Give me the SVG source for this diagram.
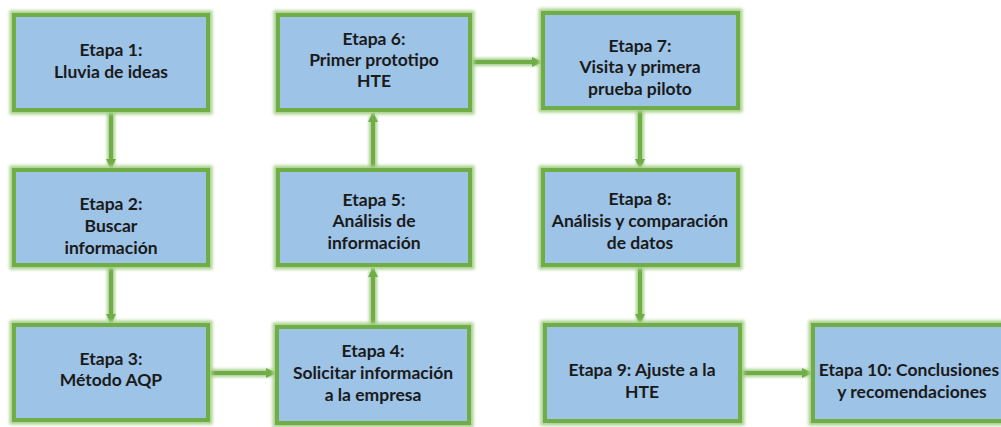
<svg xmlns="http://www.w3.org/2000/svg" width="1001" height="427" viewBox="0 0 1001 427">
<defs>
<marker id="ah" viewBox="0 0 10 10" refX="9" refY="5" markerWidth="2.6" markerHeight="2.6" orient="auto" markerUnits="strokeWidth">
<path d="M0,0 L10,5 L0,10 z" fill="#70AD47"/>
</marker>
<filter id="glow" x="-10%" y="-10%" width="120%" height="120%">
<feGaussianBlur stdDeviation="1.5"/>
</filter>
</defs>
<style>
.halo{fill:none;stroke:#A9D18E;stroke-width:9;filter:url(#glow)}
.box{fill:#9DC3E6;stroke:#70AD47;stroke-width:4}
.lhalo{fill:none;stroke:#A9D18E;stroke-width:8;filter:url(#glow)}
.ln{fill:none;stroke:#70AD47;stroke-width:4;marker-end:url(#ah)}
text{font-family:Lato,"Open Sans","Liberation Sans",sans-serif;font-weight:bold;font-size:17.5px;fill:#1a1a1a;text-anchor:middle}
</style>
<rect width="1001" height="427" fill="#ffffff"/>
<g id="connectors">
<path class="lhalo" d="M111,110 V166 M111,265 V321 M208,373 H273 M373,327 V271 M373,170 V116 M470,62 H539 M640,108 V166 M640,265 V321 M740,373 H809"/>
<path class="ln" d="M111,110 V168"/>
<path class="ln" d="M111,265 V323"/>
<path class="ln" d="M208,373 H275"/>
<path class="ln" d="M373,327 V268"/>
<path class="ln" d="M373,170 V113"/>
<path class="ln" d="M470,62 H541"/>
<path class="ln" d="M640,108 V168"/>
<path class="ln" d="M640,265 V323"/>
<path class="ln" d="M740,373 H811"/>
</g>
<g id="n1"><rect class="halo" x="14" y="15" width="194" height="95"/><rect class="box" x="14" y="15" width="194" height="95"/><text x="111" y="56">Etapa 1:</text><text x="111" y="78">Lluvia de ideas</text></g>
<g id="n2"><rect class="halo" x="14" y="170" width="194" height="95"/><rect class="box" x="14" y="170" width="194" height="95"/><text x="111" y="210">Etapa 2:</text><text x="111" y="232">Buscar</text><text x="111" y="254">información</text></g>
<g id="n3"><rect class="halo" x="14" y="325" width="194" height="95"/><rect class="box" x="14" y="325" width="194" height="95"/><text x="111" y="365">Etapa 3:</text><text x="111" y="386">Método AQP</text></g>
<g id="n4"><rect class="halo" x="277" y="327" width="192" height="96"/><rect class="box" x="277" y="327" width="192" height="96"/><text x="373" y="357">Etapa 4:</text><text x="373" y="379">Solicitar información</text><text x="373" y="401">a la empresa</text></g>
<g id="n5"><rect class="halo" x="278" y="170" width="192" height="95"/><rect class="box" x="278" y="170" width="192" height="95"/><text x="374" y="206">Etapa 5:</text><text x="374" y="227">Análisis de</text><text x="374" y="249">información</text></g>
<g id="n6"><rect class="halo" x="278" y="15" width="192" height="95"/><rect class="box" x="278" y="15" width="192" height="95"/><text x="374" y="45">Etapa 6:</text><text x="374" y="66">Primer prototipo</text><text x="374" y="87">HTE</text></g>
<g id="n7"><rect class="halo" x="543" y="13" width="195" height="95"/><rect class="box" x="543" y="13" width="195" height="95"/><text x="640" y="52">Etapa 7:</text><text x="640" y="73">Visita y primera</text><text x="640" y="95">prueba piloto</text></g>
<g id="n8"><rect class="halo" x="543" y="170" width="195" height="95"/><rect class="box" x="543" y="170" width="195" height="95"/><text x="640" y="205">Etapa 8:</text><text x="640" y="227">Análisis y comparación</text><text x="640" y="249">de datos</text></g>
<g id="n9"><rect class="halo" x="545" y="325" width="195" height="96"/><rect class="box" x="545" y="325" width="195" height="96"/><text x="642" y="376">Etapa 9: Ajuste a la</text><text x="642" y="398">HTE</text></g>
<g id="n10"><rect class="halo" x="813" y="325" width="206" height="96"/><rect class="box" x="813" y="325" width="206" height="96"/><text x="909" y="376">Etapa 10: Conclusiones</text><text x="912" y="398">y recomendaciones</text></g>
</svg>
